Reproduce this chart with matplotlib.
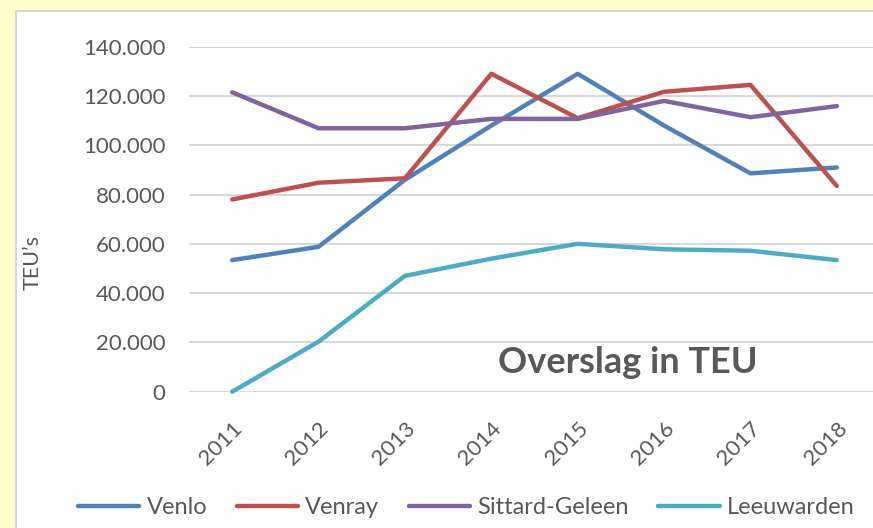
import matplotlib
matplotlib.use('Agg')
import matplotlib.pyplot as plt
import matplotlib.transforms as mtransforms
from matplotlib.patches import Rectangle
from matplotlib.ticker import FuncFormatter

plt.rcParams['font.family'] = ['Lato', 'DejaVu Sans']

# Data (TEU per year)
years = [2011, 2012, 2013, 2014, 2015, 2016, 2017, 2018]
venlo = [53400, 58800, 86000, 108000, 129000, 108000, 88600, 91000]
venray = [78000, 84800, 86600, 129000, 111000, 121700, 124500, 83500]
sittard = [121500, 106900, 106900, 110700, 110700, 118000, 111400, 115900]
leeuwarden = [0, 20300, 47000, 54000, 60000, 57800, 57200, 53400]

series = [
    ('Venlo', venlo, '#4F81BD'),
    ('Venray', venray, '#C0504D'),
    ('Sittard-Geleen', sittard, '#8064A2'),
    ('Leeuwarden', leeuwarden, '#4BACC6'),
]

W, H = 873, 528
fig = plt.figure(figsize=(W / 100, H / 100), dpi=100)
fig.patch.set_facecolor('#FFFFCC')

# white chart panel with thin grey border
panel = Rectangle((16 / W, -0.1), 1.0, (H - 11) / H + 0.1, transform=fig.transFigure,
                  facecolor='white', edgecolor='#D0D0D0', linewidth=1.2, zorder=-10)
fig.add_artist(panel)

ax = fig.add_axes([189 / W, 1 - 391.7 / H, (880 - 189) / W, 345 / H])
ax.set_facecolor('none')

for name, vals, col in series:
    ax.plot(years, vals, color=col, linewidth=3.2, label=name,
            solid_capstyle='round', solid_joinstyle='round', clip_on=False)

ax.set_xlim(2010.5, 2018.5)
ax.set_ylim(0, 140000)
ax.set_yticks(range(0, 140001, 20000))
ax.yaxis.set_major_formatter(FuncFormatter(lambda v, p: f'{int(v):,}'.replace(',', '.')))
ax.set_xticks(years)
ax.set_xticklabels([str(y) for y in years], rotation=45, ha='right',
                   rotation_mode='anchor')
offset = mtransforms.ScaledTranslation(5 / 72, 0, fig.dpi_scale_trans)
for lbl in ax.get_xticklabels():
    lbl.set_transform(lbl.get_transform() + offset)

ax.grid(axis='y', color='#D9D9D9', linewidth=1.5)
ax.set_axisbelow(True)
for s in ax.spines.values():
    s.set_visible(False)
ax.tick_params(axis='both', length=0, colors='#595959', labelsize=16)
ax.tick_params(axis='y', pad=17)
ax.tick_params(axis='x', pad=19)

fig.text(33 / W, 1 - 263 / H, 'TEU’s', rotation=90, ha='center', va='center',
         fontsize=15.5, color='#595959')
ax.text(0.635, 0.085, 'Overslag in TEU', transform=ax.transAxes, ha='center', va='center',
        fontsize=26, fontweight='bold', color='#595959')

leg = fig.legend(loc='center', bbox_to_anchor=(0.534, 1 - 507.7 / H), ncol=4,
                 frameon=False, fontsize=17, handlelength=2.6, handletextpad=0.3,
                 columnspacing=1.25)
for t in leg.get_texts():
    t.set_color('#595959')

fig.savefig('out.png', dpi=100, facecolor=fig.get_facecolor())
